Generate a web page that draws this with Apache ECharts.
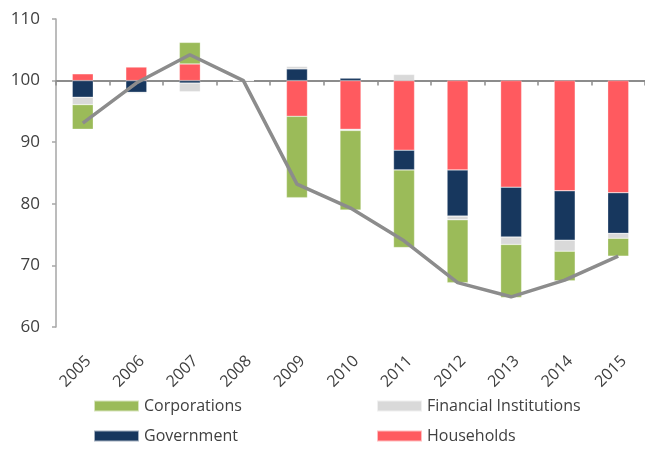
<!DOCTYPE html>
<html>
<head>
<meta charset="utf-8">
<title>Contributions to debt index</title>
<script src="https://cdn.jsdelivr.net/npm/echarts@6/dist/echarts.min.js"></script>
<style>
  html, body { margin: 0; padding: 0; background: #fff; }
  #chart { width: 645px; height: 449px; }
</style>
</head>
<body>
<div id="chart"></div>
<script>
// x axis categories
const years = ['2005', '2006', '2007', '2008', '2009', '2010', '2011', '2012', '2013', '2014', '2015']

// contributions (points, relative to the 100 baseline)
const households = [1.1, 2.2, 2.7, 0, -5.8, -7.9, -11.3, -14.5, -17.3, -17.9, -18.2]
const government = [-2.7, -1.9, -0.4, 0, 1.9, 0.4, -3.2, -7.5, -8.1, -8.0, -6.6]
const financial = [-1.2, -0.2, -1.4, 0, 0.4, -0.2, 1.0, -0.6, -1.2, -1.8, -0.8]
const corporations = [-4.0, 0, 3.5, 0, -13.2, -12.9, -12.6, -10.2, -8.6, -4.8, -2.9]

// total index (2008 = 100)
const totalIndex = [93.1, 99.6, 104.2, 100, 83.2, 79.3, 74.0, 67.2, 64.9, 67.6, 71.5]

// y axis ticks
const base = 100
const yMin = 60
const yMax = 110
const yStep = 10

const font = 'Open Sans'
const textColor = '#404040'

const chart = echarts.init(document.getElementById('chart'))

function barSeries(name, data, color) {
  return {
    name: name,
    type: 'bar',
    stack: 'total',
    xAxisIndex: 0,
    barWidth: 21,
    data: data,
    itemStyle: {
      color: color,
      borderColor: 'rgba(255,255,255,0.6)',
      borderWidth: 0.5
    },
    emphasis: { disabled: true }
  }
}

const legendCommon = {
  orient: 'vertical',
  height: 70,
  itemWidth: 45,
  itemHeight: 11,
  itemGap: 14,
  icon: 'rect',
  textStyle: { fontFamily: font, fontSize: 16, color: textColor }
}

chart.setOption({
  animation: false,
  grid: {
    left: 56,
    right: 0,
    top: 19,
    bottom: 122
  },
  legend: [
    Object.assign({ left: 88, top: 393, data: ['Corporations', 'Government'] }, legendCommon),
    Object.assign({ left: 371, top: 393, data: ['Financial Institutions', 'Households'] }, legendCommon)
  ],
  xAxis: [
    {
      // the 100 line with ticks between the years
      type: 'category',
      data: years,
      position: 'bottom',
      axisLine: { onZero: true, lineStyle: { color: '#8c8c8c', width: 2 } },
      axisTick: { show: true, length: 5, lineStyle: { color: '#8c8c8c', width: 1.5 } },
      axisLabel: { show: false }
    },
    {
      // year labels along the bottom
      type: 'category',
      data: years,
      position: 'bottom',
      axisLine: { show: false, onZero: false },
      axisTick: { show: false },
      axisLabel: {
        rotate: 45,
        margin: 26,
        verticalAlign: 'top',
        fontFamily: font,
        fontSize: 16,
        color: textColor
      }
    }
  ],
  yAxis: {
    type: 'value',
    min: yMin - base,
    max: yMax - base,
    interval: yStep,
    axisLine: { show: true, lineStyle: { color: '#a6a6a6', width: 1.5 } },
    axisTick: { show: true, length: 4, lineStyle: { color: '#a6a6a6', width: 1.5 } },
    splitLine: { show: false },
    axisLabel: {
      margin: 16,
      fontFamily: font,
      fontSize: 17,
      color: textColor,
      formatter: function(v) { return v + base }
    }
  },
  series: [
    barSeries('Households', households, '#ff5a5f'),
    barSeries('Government', government, '#17375e'),
    barSeries('Financial Institutions', financial, '#d9d9d9'),
    barSeries('Corporations', corporations, '#9bbb59'),
    {
      name: 'Total',
      type: 'line',
      xAxisIndex: 0,
      data: totalIndex.map(v => +(v - base).toFixed(1)),
      symbol: 'none',
      z: 5,
      lineStyle: { color: '#8c8c8c', width: 3.5 },
      emphasis: { disabled: true }
    }
  ]
})
</script>
</body>
</html>
